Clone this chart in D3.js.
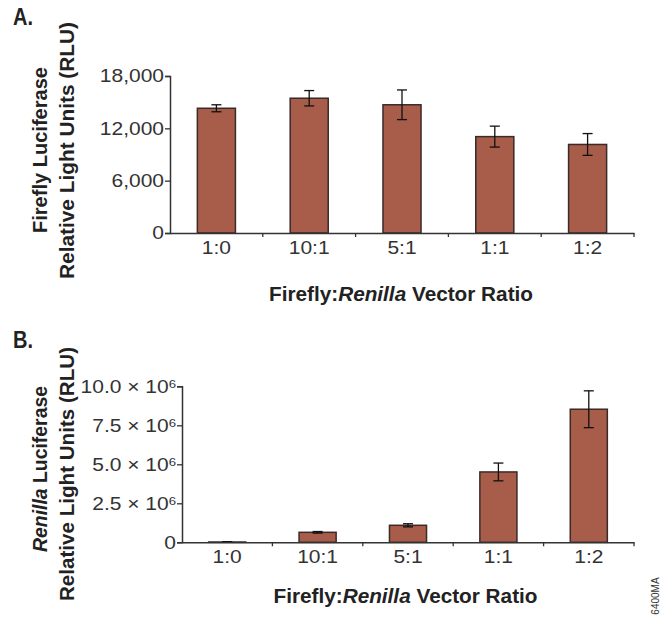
<!DOCTYPE html>
<html>
<head>
<meta charset="utf-8">
<script src="https://d3js.org/d3.v7.min.js"></script>
<style>
  body { margin: 0; background: #fff; }
  .tick-lab { font-family: "Liberation Sans", Arial, sans-serif; fill: #333; font-size: 17.5px; }
  .title { font-family: "Liberation Sans", Arial, sans-serif; font-weight: bold; fill: #222; }
</style>
</head>
<body>
<div id="chart"></div>
<script>
// ratios on the x axis (shared by both panels)
const ratios = ["1:0", "10:1", "5:1", "1:1", "1:2"];

// panel A: firefly luciferase (RLU)
const fireflyMean = [14300, 15450, 14700, 11050, 10150];
const fireflyErr  = [400, 880, 1700, 1200, 1250];
const fireflyTicks = [0, 6000, 12000, 18000];

// panel B: renilla luciferase (RLU)
const renillaMean = [0.02e6, 0.64e6, 1.09e6, 4.51e6, 8.53e6];
const renillaErr  = [0.02e6, 0.05e6, 0.1e6, 0.57e6, 1.18e6];
const renillaTicks = [0, 2.5e6, 5.0e6, 7.5e6, 10.0e6];
const renillaTickText = ["0", "2.5 × 10", "5.0 × 10", "7.5 × 10", "10.0 × 10"];

const barColor = "#a85c4a";
const stretch = 1.2;  // tick labels are drawn a little wide

const svg = d3.select("#chart").append("svg")
  .attr("width", 660)
  .attr("height", 618);

function panel(opt) {
  const g = svg.append("g");

  const x = d3.scaleBand().domain(ratios).range([opt.left, opt.right]);
  const y = d3.scaleLinear().domain([0, opt.max]).range([opt.bottom, opt.top]);
  const bw = x.bandwidth() * 0.41;
  const cx = d => x(d) + x.bandwidth() / 2;

  // bars
  g.selectAll("rect.bar")
    .data(opt.mean)
    .enter().append("rect")
      .attr("class", "bar")
      .attr("x", (d, i) => cx(ratios[i]) - bw / 2)
      .attr("y", d => y(d))
      .attr("width", bw)
      .attr("height", d => opt.bottom - y(d))
      .attr("fill", barColor)
      .attr("stroke", "#3a2a28")
      .attr("stroke-width", 1.5);

  // error bars
  const eb = g.selectAll("g.err")
    .data(opt.mean)
    .enter().append("g")
      .attr("class", "err")
      .attr("stroke", "#111")
      .attr("stroke-width", 1.3);
  eb.append("line")
    .attr("x1", (d, i) => cx(ratios[i]))
    .attr("x2", (d, i) => cx(ratios[i]))
    .attr("y1", (d, i) => y(d + opt.err[i]))
    .attr("y2", (d, i) => y(Math.max(0, d - opt.err[i])));
  [1, -1].forEach(s => {
    eb.append("line")
      .attr("x1", (d, i) => cx(ratios[i]) - 5)
      .attr("x2", (d, i) => cx(ratios[i]) + 5)
      .attr("y1", (d, i) => y(Math.max(0, d + s * opt.err[i])))
      .attr("y2", (d, i) => y(Math.max(0, d + s * opt.err[i])));
  });

  // y axis
  const yAxis = g.append("g")
    .attr("transform", `translate(${opt.left},0)`)
    .call(d3.axisLeft(y).tickValues(opt.ticks).tickSize(5).tickFormat(""));
  yAxis.select(".domain").attr("stroke", "#333").attr("stroke-width", 1.5);
  yAxis.selectAll(".tick line").attr("stroke", "#333").attr("stroke-width", 1.3);

  const labs = g.selectAll("text.ylab")
    .data(opt.ticks)
    .enter().append("text")
      .attr("class", "tick-lab ylab")
      .attr("transform", d => `translate(${opt.labelX},${y(d)}) scale(${stretch},1)`)
      .attr("dy", "0.36em")
      .attr("text-anchor", "end");
  opt.labelFn(labs);

  // x axis: line plus ticks between categories
  const xAxis = g.append("g")
    .attr("transform", `translate(0,${opt.bottom})`)
    .call(d3.axisBottom(x).tickSize(0).tickFormat(""));
  xAxis.select(".domain").attr("stroke", "#333").attr("stroke-width", 1.5);
  g.selectAll("line.sep")
    .data(ratios)
    .enter().append("line")
      .attr("class", "sep")
      .attr("x1", d => x(d) + x.step())
      .attr("x2", d => x(d) + x.step())
      .attr("y1", opt.bottom)
      .attr("y2", opt.bottom + 4)
      .attr("stroke", "#333")
      .attr("stroke-width", 1.3);
  g.selectAll("text.xlab")
    .data(ratios)
    .enter().append("text")
      .attr("class", "tick-lab xlab")
      .attr("transform", d => `translate(${cx(d)},${opt.bottom + 21}) scale(${stretch},1)`)
      .attr("text-anchor", "middle")
      .text(d => d);

  // x title
  const xt = g.append("text")
    .attr("class", "title")
    .attr("x", opt.xTitleX)
    .attr("y", opt.xTitleY)
    .attr("text-anchor", "middle")
    .attr("textLength", 264)
    .attr("lengthAdjust", "spacingAndGlyphs")
    .style("font-size", "20px");
  xt.append("tspan").text("Firefly:");
  xt.append("tspan").attr("font-style", "italic").text("Renilla");
  xt.append("tspan").text(" Vector Ratio");

  // y title (two lines)
  const t1 = g.append("text")
    .attr("class", "title")
    .attr("transform", `translate(47,${opt.yTitleCY[0]}) rotate(-90)`)
    .attr("text-anchor", "middle")
    .attr("textLength", 166)
    .attr("lengthAdjust", "spacingAndGlyphs")
    .style("font-size", "20px");
  opt.yLine1(t1);
  g.append("text")
    .attr("class", "title")
    .attr("transform", `translate(74,${opt.yTitleCY[1]}) rotate(-90)`)
    .attr("text-anchor", "middle")
    .attr("textLength", opt.yLine2Len)
    .attr("lengthAdjust", "spacingAndGlyphs")
    .style("font-size", "20px")
    .text("Relative Light Units (RLU)");

  // panel letter
  g.append("text")
    .attr("class", "title")
    .attr("x", 13)
    .attr("y", opt.letterY)
    .attr("textLength", 20)
    .attr("lengthAdjust", "spacingAndGlyphs")
    .style("font-size", "24px")
    .text(opt.letter);
}

panel({
  letter: "A.", letterY: 25,
  left: 170, right: 634, top: 76, bottom: 233, max: 18000,
  mean: fireflyMean, err: fireflyErr, ticks: fireflyTicks,
  labelX: 164,
  xTitleX: 401, xTitleY: 301, yTitleCY: [150, 150.5], yLine2Len: 257,
  labelFn: sel => sel.text(d => d3.format(",")(d)),
  yLine1: t => t.text("Firefly Luciferase")
});

panel({
  letter: "B.", letterY: 348,
  left: 182, right: 634, top: 386.3, bottom: 542.3, max: 10e6,
  mean: renillaMean, err: renillaErr, ticks: renillaTicks,
  labelX: 176,
  xTitleX: 405.5, xTitleY: 603, yTitleCY: [469, 474], yLine2Len: 254,
  labelFn: sel => {
    sel.text((d, i) => renillaTickText[i]);
    sel.filter((d, i) => i > 0)
      .append("tspan")
      .attr("dy", "-0.45em")
      .style("font-size", "11px")
      .text("6");
  },
  yLine1: t => {
    t.append("tspan").attr("font-style", "italic").text("Renilla");
    t.append("tspan").text(" Luciferase");
  }
});

// figure code
svg.append("text")
  .attr("transform", "translate(659,596) rotate(-90)")
  .attr("text-anchor", "middle")
  .attr("font-family", "Liberation Sans, Arial, sans-serif")
  .attr("font-size", "10px")
  .attr("fill", "#333")
  .text("6400MA");
</script>
</body>
</html>
